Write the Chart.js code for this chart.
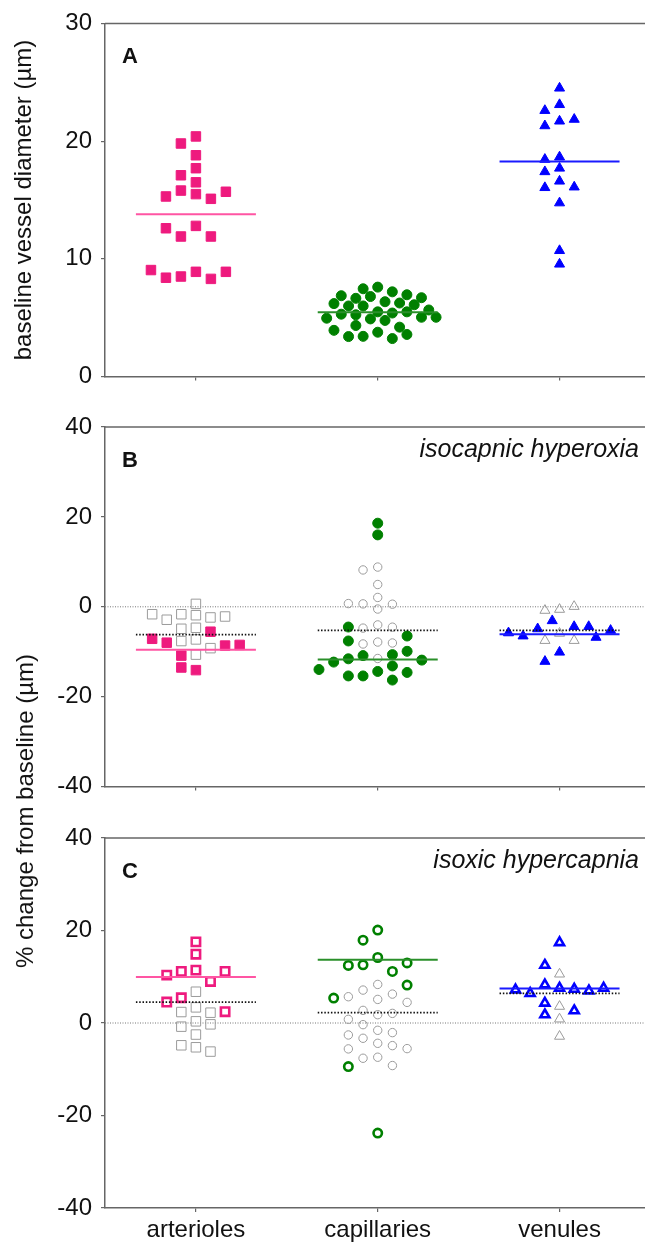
<!DOCTYPE html>
<html>
<head>
<meta charset="utf-8">
<script src="https://cdn.jsdelivr.net/npm/chart.js@4/dist/chart.umd.min.js"></script>
<style>
	body { margin: 0; background: #fff; width: 645px; height: 1245px; position: relative; overflow: hidden; font-family: "Liberation Sans", Arial, sans-serif; }
	.panel { position: absolute; left: 0; }
	.panel canvas { display: block; }
	#sharedTitle { position: absolute; left: 25px; top: 811px; transform: translate(-50%, -50%) rotate(-90deg); font-size: 24px; white-space: nowrap; color: #111; }
</style>
</head>
<body>
<div class="panel" style="top:0"><canvas id="chartA" width="645" height="400"></canvas></div>
<div class="panel" style="top:400px"><canvas id="chartB" width="645" height="410"></canvas></div>
<div class="panel" style="top:810px"><canvas id="chartC" width="645" height="435"></canvas></div>
<div id="sharedTitle">% change from baseline (µm)</div>
<script>
const categories = [ 'arterioles', 'capillaries', 'venules' ];
const ticksA = [ 0, 10, 20, 30 ];
const ticksBC = [ -40, -20, 0, 20, 40 ];

// A: baseline vessel diameter (µm)
const baseArterioles = [ 20.4, 19.8, 18.8, 17.7, 17.1, 16.5, 15.8, 15.5, 15.1, 15.3, 15.7, 12.8, 11.9, 11.9, 12.6, 8.9, 8.5, 8.3, 8.4, 8.9, 9.05 ];
const baseCapillaries = [ 7.6, 7.46, 7.2, 6.8, 6.65, 6.95, 6.87, 6.7, 6.36, 6.0, 6.25, 6.1, 6.2, 6.0, 5.5, 5.4, 5.5, 5.66, 5.25, 5.3, 5.04, 4.9, 4.77, 4.96, 5.04, 4.34, 4.2, 3.77, 3.42, 3.23, 3.4, 3.58, 3.93 ];
const baseVenules = [ 24.5, 23.1, 22.6, 21.7, 21.3, 21.85, 18.65, 18.45, 17.7, 17.4, 16.6, 16.05, 16.1, 14.75, 10.7, 9.55 ];
const baseMeans = [ 13.8, 5.47, 18.27 ];

// B: isocapnic hyperoxia, % change (coloured = responders, grey = others)
const hyperoxArtResp = [ -5.54, -7.98, -8.63, -7.12, -8.48, -10.86, -14.09, -13.5 ];
const hyperoxArtOther = [ 0.65, -1.65, -1.87, -2.37, -2.88, -2.16, -1.65, -4.67, -4.89, -7.26, -7.62, -9.2, -10.64 ];
const hyperoxCapResp = [ 18.6, 16.0, -4.5, -6.5, -7.6, -9.9, -10.86, -10.64, -11.57, -12.3, -11.86, -13.16, -14.38, -15.38, -16.3, -15.38, -14.6, -13.95 ];
const hyperoxCapOther = [ 8.84, 8.2, 4.96, 2.08, 0.65, -0.5, 0.58, 0.72, -4.03, -4.74, -4.53, -7.84, -8.27, -8.05, -11.5 ];
const hyperoxVenResp = [ -3.1, -4.4, -4.9, -4.4, -6.5, -6.8, -5.8, -5.25, -10.1, -12.15 ];
const hyperoxVenOther = [ -0.58, -0.8, 0.07, -5.9, -7.5, -7.5 ];
const hyperoxRespMeans = [ -9.56, -11.7, -6.1 ];
const hyperoxAllMeans = [ -6.18, -5.25, -5.25 ];

// C: isoxic hypercapnia, % change
const hypercapArtResp = [ 17.54, 14.88, 11.43, 11.14, 8.99, 10.35, 11.14, 4.53, 5.46, 2.44 ];
const hypercapArtOther = [ 6.76, 3.38, 2.37, 2.23, 0.36, -0.79, -0.29, -2.5, -4.82, -5.25, -6.18 ];
const hypercapCapResp = [ 20.1, 17.9, 14.16, 12.58, 11.14, 12.44, 13.0, 8.2, 5.39, -9.42, -23.8 ];
const hypercapCapOther = [ 8.34, 7.12, 6.25, 5.68, 5.1, 4.46, 2.73, 1.8, 2.08, 0.79, -0.36, -1.58, -2.08, -2.59, -3.3, -4.39, -4.89, -5.6, -5.54, -7.4, -7.62, -9.2 ];
const hypercapVenResp = [ 17.4, 12.5, 8.27, 7.55, 7.33, 6.4, 6.97, 7.19, 7.55, 4.31, 2.66, 1.8 ];
const hypercapVenOther = [ 10.57, 3.59, 0.86, -2.88 ];
const hypercapRespMeans = [ 9.92, 13.66, 7.48 ];
const hypercapAllMeans = [ 4.53, 2.23, 6.4 ];

Chart.defaults.font.family = '"Liberation Sans", Arial, sans-serif';
Chart.defaults.color = '#111';

const PX_PER_X = 182;
const colours = [ '#ee1a7e', '#008000', '#0000ff' ];
const lineColours = [ '#ff55a3', '#2a8f2a', '#1a1aff' ];
const shapes = [ 'rect', 'circle', 'triangle' ];
const grey = '#9b9b9b';

// simple beeswarm: each point takes the lane nearest the centre where it does not overlap
function swarm( values, pxPerUnit, lanePx, minDist ) {
	const placed = [];
	return values.map( ( v ) => {
		const py = v * pxPerUnit;
		for ( let k = 0; k < 40; k++ ) {
			const lane = k % 2 ? -( k + 1 ) / 2 : k / 2;
			const px = lane * lanePx;
			const hit = placed.some(
				( p ) => ( p.px - px ) ** 2 + ( p.py - py ) ** 2 < minDist ** 2
			);
			if ( ! hit ) {
				placed.push( { px, py } );
				return px / PX_PER_X;
			}
		}
		return 0;
	} );
}

function meanLine( i, value, colour, dotted ) {
	return {
		data: [ { x: i - 0.33, y: value }, { x: i + 0.33, y: value } ],
		showLine: true,
		pointRadius: 0,
		borderColor: colour,
		borderWidth: dotted ? 1.8 : 2,
		borderDash: dotted ? [ 1.5, 1.8 ] : [],
	};
}

function pointSet( i, values, offsets, radius, fill, border, width ) {
	return {
		data: values.map( ( v, k ) => ( { x: i + offsets[ k ], y: v } ) ),
		pointStyle: shapes[ i ],
		pointRadius: radius,
		backgroundColor: fill,
		borderColor: border,
		pointBorderWidth: width,
		borderWidth: width,
	};
}

// groups: per category { resp, other, lane, dist }
function buildDatasets( groups, pxPerUnit, respMeans, allMeans, mode ) {
	const lines = [];
	const coloured = [];
	const greys = [];
	groups.forEach( ( g, i ) => {
		const other = g.other || [];
		const offs = swarm( other.concat( g.resp ), pxPerUnit, g.lane, g.dist );
		const offOther = offs.slice( 0, other.length );
		const offResp = offs.slice( other.length );
		lines.push( meanLine( i, respMeans[ i ], lineColours[ i ], false ) );
		if ( allMeans ) {
			lines.push( meanLine( i, allMeans[ i ], '#111', true ) );
		}
		if ( mode === 'open' ) {
			coloured.push( pointSet( i, g.resp, offResp, [ 5.9, 4.2, 5.2 ][ i ], 'rgba(0,0,0,0)', colours[ i ], 2.6 ) );
		} else {
			coloured.push( pointSet( i, g.resp, offResp, [ 6.7, 5, 5.8 ][ i ], colours[ i ], colours[ i ], 1 ) );
		}
		if ( other.length ) {
			greys.push( pointSet( i, other, offOther, [ 6.7, 4.2, 5.8 ][ i ], 'rgba(0,0,0,0)', grey, 1 ) );
		}
	} );
	const sets = lines.concat( coloured, greys );
	if ( allMeans ) {
		sets.push( {
			data: [ { x: -0.5, y: 0 }, { x: 2.47, y: 0 } ],
			showLine: true,
			pointRadius: 0,
			borderColor: '#777',
			borderWidth: 1,
			borderDash: [ 1, 1.5 ],
		} );
	}
	return sets;
}

const panelDecor = {
	id: 'panelDecor',
	afterDraw( chart, args, opts ) {
		const { ctx, chartArea: a } = chart;
		ctx.save();
		ctx.strokeStyle = '#666';
		ctx.lineWidth = 1.5;
		ctx.beginPath();
		ctx.moveTo( a.left, a.top );
		ctx.lineTo( a.right, a.top );
		ctx.stroke();
		ctx.fillStyle = '#111';
		ctx.font = 'bold 22px "Liberation Sans"';
		ctx.textBaseline = 'middle';
		ctx.fillText( opts.letter, a.left + 17, a.top + 34 );
		if ( opts.note ) {
			ctx.font = 'italic 25px "Liberation Sans"';
			ctx.textAlign = 'right';
			ctx.textBaseline = 'alphabetic';
			ctx.fillText( opts.note, a.right - 6, a.top + 30 );
		}
		ctx.restore();
	},
};

function makeChart( id, p ) {
	return new Chart( document.getElementById( id ), {
		type: 'scatter',
		data: { datasets: p.datasets },
		plugins: [ panelDecor ],
		options: {
			responsive: false,
			animation: false,
			layout: {
				autoPadding: false,
				padding: { top: p.padTop, right: 0, bottom: 0, left: 0 },
			},
			plugins: {
				legend: { display: false },
				tooltip: { enabled: false },
				panelDecor: { letter: p.letter, note: p.note },
			},
			scales: {
				x: {
					type: 'linear',
					min: -0.5,
					max: 2.47,
					afterBuildTicks: ( s ) => {
						s.ticks = categories.map( ( c, i ) => ( { value: i } ) );
					},
					afterFit: ( s ) => {
						s.height = p.xHeight;
					},
					grid: { drawOnChartArea: false, tickLength: 4, color: '#666', lineWidth: 1.2 },
					border: { color: '#666', width: 1.5 },
					ticks: {
						display: p.showX,
						callback: ( v ) => categories[ v ],
						font: { size: 24 },
						padding: 4,
						autoSkip: false,
						maxRotation: 0,
					},
				},
				y: {
					min: p.yTicks[ 0 ],
					max: p.yTicks[ p.yTicks.length - 1 ],
					afterBuildTicks: ( s ) => {
						s.ticks = p.yTicks.map( ( v ) => ( { value: v } ) );
					},
					afterFit: ( s ) => {
						s.width = 105;
					},
					grid: { drawOnChartArea: false, tickLength: 4, color: '#666', lineWidth: 1.2 },
					border: { color: '#666', width: 1.5 },
					ticks: { font: { size: 24 }, padding: 9 },
					title: {
						display: !! p.yTitle,
						text: p.yTitle,
						font: { size: 24 },
						padding: { top: 10, bottom: 0 },
					},
				},
			},
		},
	} );
}

makeChart( 'chartA', {
	padTop: 17,
	xHeight: 12,
	showX: false,
	letter: 'A',
	yTicks: ticksA,
	yTitle: 'baseline vessel diameter (µm)',
	datasets: buildDatasets(
		[
			{ resp: baseArterioles, lane: 15, dist: 11.5 },
			{ resp: baseCapillaries, lane: 7.3, dist: 10.3 },
			{ resp: baseVenules, lane: 14.7, dist: 11 },
		],
		12.37,
		baseMeans,
		null,
		'filled'
	),
} );

makeChart( 'chartB', {
	padTop: 27,
	xHeight: 12,
	showX: false,
	letter: 'B',
	note: 'isocapnic hyperoxia',
	yTicks: ticksBC,
	datasets: buildDatasets(
		[
			{ resp: hyperoxArtResp, other: hyperoxArtOther, lane: 14.6, dist: 11.5 },
			{ resp: hyperoxCapResp, other: hyperoxCapOther, lane: 14.7, dist: 11.5 },
			{ resp: hyperoxVenResp, other: hyperoxVenOther, lane: 7.3, dist: 12 },
		],
		4.64,
		hyperoxRespMeans,
		hyperoxAllMeans,
		'filled'
	),
} );

makeChart( 'chartC', {
	padTop: 28,
	xHeight: 37,
	showX: true,
	letter: 'C',
	note: 'isoxic hypercapnia',
	yTicks: ticksBC,
	datasets: buildDatasets(
		[
			{ resp: hypercapArtResp, other: hypercapArtOther, lane: 14.6, dist: 11.5 },
			{ resp: hypercapCapResp, other: hypercapCapOther, lane: 14.7, dist: 13 },
			{ resp: hypercapVenResp, other: hypercapVenOther, lane: 14.7, dist: 11 },
		],
		4.64,
		hypercapRespMeans,
		hypercapAllMeans,
		'open'
	),
} );
</script>
</body>
</html>
